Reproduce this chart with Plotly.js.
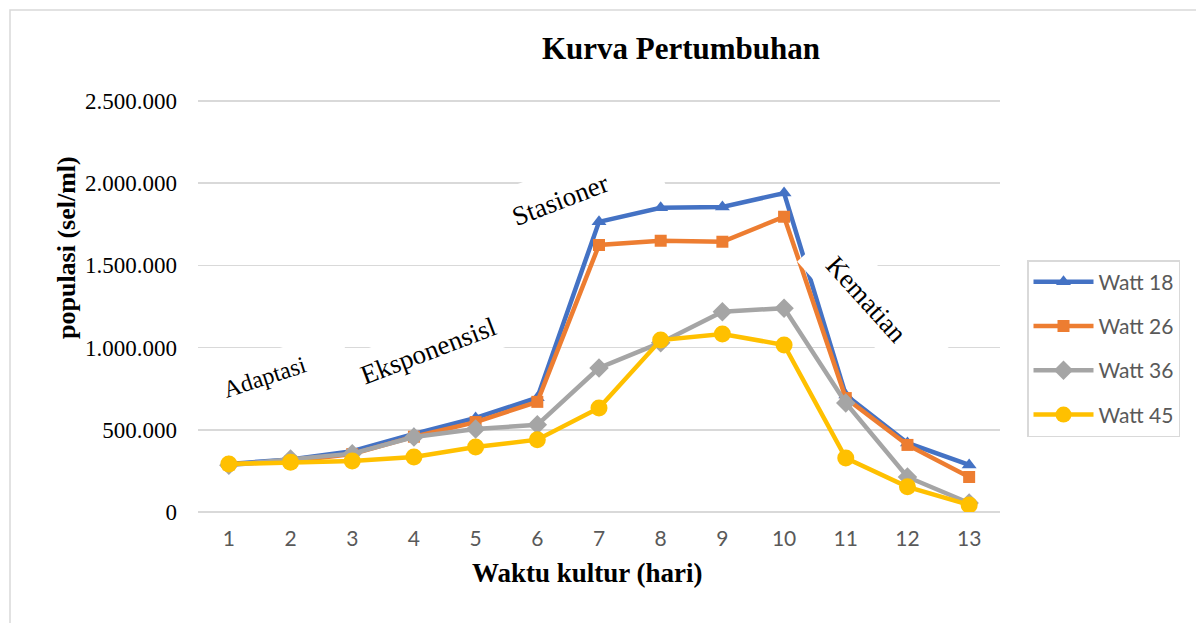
<!DOCTYPE html>
<html>
<head>
<meta charset="utf-8">
<script src="https://cdn.plot.ly/plotly-3.0.1.min.js"></script>
<style>
  html, body { margin: 0; padding: 0; background: #ffffff; }
  #chart { width: 1196px; height: 623px; }
</style>
</head>
<body>
<div id="chart"></div>
<script>
// ---- data ----
const days = [1, 2, 3, 4, 5, 6, 7, 8, 9, 10, 11, 12, 13];
const watt18 = [292000, 320000, 370000, 475000, 572000, 695000, 1765000, 1850000, 1855000, 1940000, 712000, 420000, 286000];
const watt26 = [290000, 308000, 352000, 458000, 547000, 670000, 1624000, 1650000, 1644000, 1796000, 693000, 408000, 213000];
const watt36 = [285000, 322000, 355000, 456000, 505000, 530000, 876000, 1030000, 1218000, 1240000, 663000, 213000, 55000];
const watt45 = [292000, 302000, 310000, 335000, 395000, 440000, 633000, 1046000, 1083000, 1016000, 328000, 153000, 43000];
const seriesNames = ["Watt 18", "Watt 26", "Watt 36", "Watt 45"];
const yTicks = [0, 500000, 1000000, 1500000, 2000000, 2500000];
const phaseLabels = ["Adaptasi", "Eksponensisl", "Stasioner", "Kematian"];
const chartTitle = "Kurva Pertumbuhan";
const xTitle = "Waktu kultur (hari)";
const yTitle = "populasi (sel/ml)";

// ---- geometry helpers ----
const W = 1196, H = 623;
const L = 198, R = 1000, B = 512;
const TOPTICK = 101;          // pixel row of the 2.500.000 gridline
const T = 97;                 // plot-area top (a little above the last gridline so it is drawn)
const yMax = 2500000 * (B - T) / (B - TOPTICK);
const px = x => (x - L) / (R - L);
const py = y => (B - y) / (B - T);

const colors = ["#4472C4", "#ED7D31", "#A5A5A5", "#FFC000"];
const symbols = ["triangle-up", "square", "diamond", "circle"];
const sizes = [13, 12, 15, 17];
const values = [watt18, watt26, watt36, watt45];

const traces = values.map((v, i) => ({
  type: "scatter",
  mode: "lines+markers",
  x: days,
  y: v,
  name: seriesNames[i],
  legendgroup: "g" + i,
  line: { color: colors[i], width: 4.5 },
  marker: { color: colors[i], symbol: symbols[i], size: sizes[i] },
  hoverinfo: "x+y+name"
}));

const serif = "'Liberation Serif', 'Times New Roman', serif";
const sans = "Lato, 'Open Sans', sans-serif";

// phase label text boxes (white, rotated like the text)
const labelBoxes = [
  { cx: 265, cy: 377, ang: -18, u: [-50, 85], v: [-23, 23], size: 24 },
  { cx: 428, cy: 351, ang: -21, u: [-80, 82], v: [-24, 24], size: 27 },
  { cx: 560, cy: 200, ang: -21, u: [-58, 104], v: [-30, 25], size: 27 },
  { cx: 866, cy: 299, ang: 48, u: [-74, 91], v: [-31, 26], size: 27 }
];

function boxPath(b) {
  const a = b.ang * Math.PI / 180;
  const ux = Math.cos(a), uy = Math.sin(a);
  const vx = -Math.sin(a), vy = Math.cos(a);
  const pts = [[b.u[0], b.v[0]], [b.u[1], b.v[0]], [b.u[1], b.v[1]], [b.u[0], b.v[1]]]
    .map(([s, t]) => [b.cx + s * ux + t * vx, b.cy + s * uy + t * vy]);
  return "M " + pts.map(p => px(p[0]) + "," + py(p[1])).join(" L ") + " Z";
}

const shapes = labelBoxes.map(b => ({
  type: "path", xref: "paper", yref: "paper", layer: "above",
  path: boxPath(b),
  fillcolor: "#ffffff",
  line: { width: 0 }
}));
shapes.push({
  type: "path", xref: "paper", yref: "paper",
  path: "M " + px(10) + "," + py(H + 5) + " L " + px(10) + "," + py(10) + " L " + px(W + 5) + "," + py(10),
  line: { color: "#d9d9d9", width: 1.5 }
});

const annotations = labelBoxes.map((b, i) => ({
  text: phaseLabels[i],
  xref: "paper", yref: "paper", showarrow: false,
  x: px(b.cx), y: py(b.cy), xanchor: "center", yanchor: "middle",
  textangle: b.ang,
  font: { family: serif, size: b.size, color: "#000000" }
}));

annotations.push({
  text: "<b>" + yTitle + "</b>",
  xref: "paper", yref: "paper", x: px(66), y: py(248),
  xanchor: "center", yanchor: "middle", showarrow: false, textangle: -90,
  font: { family: serif, size: 26, color: "#000000" }
});
annotations.push({
  text: "<b>" + xTitle + "</b>",
  xref: "paper", yref: "paper", x: px(587), y: py(573),
  xanchor: "center", yanchor: "middle", showarrow: false,
  font: { family: serif, size: 27, color: "#000000" }
});

const layout = {
  width: W, height: H,
  margin: { l: L, r: W - R, t: T, b: H - B, pad: 0 },
  paper_bgcolor: "#ffffff",
  plot_bgcolor: "#ffffff",
  separators: ",.",
  showlegend: true,
  title: {
    text: "<b>" + chartTitle + "</b>",
    xref: "paper", yref: "paper",
    x: px(681), y: py(52), xanchor: "center", yanchor: "middle",
    font: { family: serif, size: 31, color: "#000000" }
  },
  xaxis: {
    range: [0.5, 13.5],
    tickvals: days,
    ticktext: days.map(String),
    showgrid: false,
    zeroline: false,
    showline: false,
    ticks: "",
    ticklabelstandoff: 12,
    tickfont: { family: sans, size: 21, color: "#595959" }
  },
  yaxis: {
    range: [0, yMax],
    tickvals: yTicks,
    tickformat: ",d",
    showgrid: true,
    gridcolor: "#d9d9d9",
    gridwidth: 1.5,
    zeroline: true,
    zerolinecolor: "#d9d9d9",
    zerolinewidth: 1.5,
    showline: false,
    ticks: "",
    ticklabelstandoff: 20,
    tickfont: { family: serif, size: 23, color: "#000000" }
  },
  legend: {
    x: px(1027), y: py(260), xanchor: "left", yanchor: "top",
    bgcolor: "#ffffff",
    bordercolor: "#d9d9d9", borderwidth: 1.5,
    traceorder: "grouped",
    tracegroupgap: 14,
    itemwidth: 60,
    font: { family: sans, size: 21, color: "#595959" }
  },
  annotations: annotations,
  shapes: shapes
};

Plotly.newPlot("chart", traces, layout, { displayModeBar: false, staticPlot: true });
</script>
</body>
</html>
